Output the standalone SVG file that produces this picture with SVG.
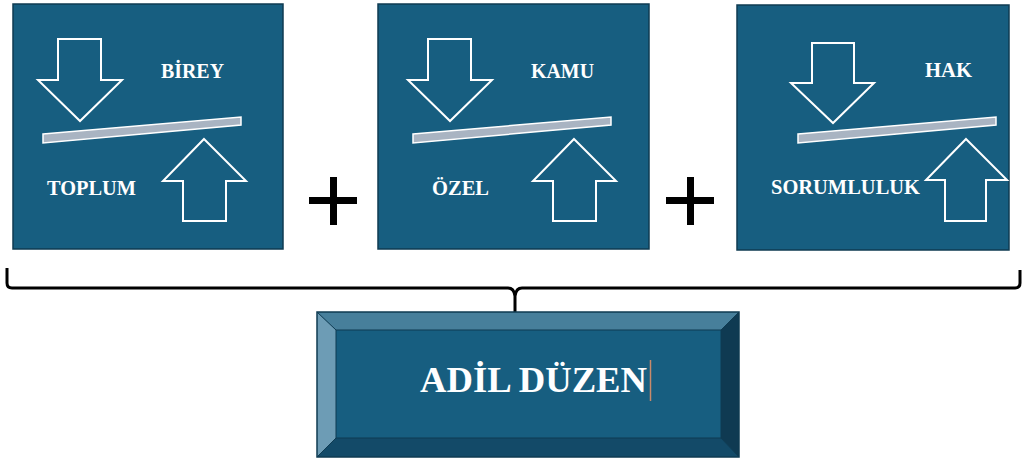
<svg xmlns="http://www.w3.org/2000/svg" width="1022" height="460" viewBox="0 0 1022 460">
<style>
.panel{fill:#175e80;stroke:#0f3b52;stroke-width:1.5}
.arr{fill:none;stroke:#ffffff;stroke-width:2;stroke-linejoin:miter}
.bar{fill:#a9b4c2;stroke:#ffffff;stroke-width:1.5}
.lbl{font-family:"Liberation Serif","Times New Roman",serif;font-weight:bold;font-size:20.5px;fill:#ffffff}
.plus{fill:#000000}
.brace{fill:none;stroke:#000000;stroke-width:3;stroke-linejoin:round}
</style>
<rect width="1022" height="460" fill="#ffffff"/>
<g id="node-birey-toplum">
<rect class="panel" x="13" y="4" width="270" height="245"/>
<polygon class="arr" points="58,39 101,39 101,80 122,80 80,121 38,80 58,80"/>
<polygon class="bar" points="43,134 241,117 241,125 43,143"/>
<polygon class="arr" points="204,139 246,181 226,181 226,221 183,221 183,181 163,181"/>
<text class="lbl" x="161" y="78" textLength="63" lengthAdjust="spacingAndGlyphs">BİREY</text>
<text class="lbl" x="47" y="195" textLength="89" lengthAdjust="spacingAndGlyphs">TOPLUM</text>
</g>
<g id="node-kamu-ozel">
<rect class="panel" x="378" y="4" width="271" height="245"/>
<polygon class="arr" points="428,39 471,39 471,80 492,80 450,121 408,80 428,80"/>
<polygon class="bar" points="413,134 611,117 611,125 413,143"/>
<polygon class="arr" points="574,139 616,181 596,181 596,221 553,221 553,181 533,181"/>
<text class="lbl" x="531" y="78" textLength="63" lengthAdjust="spacingAndGlyphs">KAMU</text>
<text class="lbl" x="432" y="195" textLength="57" lengthAdjust="spacingAndGlyphs">ÖZEL</text>
</g>
<g id="node-hak-sorumluluk">
<rect class="panel" x="737" y="5" width="272" height="245"/>
<polygon class="arr" points="812,43 854,43 854,83 874,83 833,123 791,83 812,83"/>
<polygon class="bar" points="798,134 996,117 996,125 798,143"/>
<polygon class="arr" points="966,139 1007,180 986,180 986,221 945,221 945,180 926,180"/>
<text class="lbl" x="925" y="77" textLength="47" lengthAdjust="spacingAndGlyphs">HAK</text>
<text class="lbl" x="771" y="194" textLength="149" lengthAdjust="spacingAndGlyphs">SORUMLULUK</text>
</g>
<g id="plus-signs">
<rect class="plus" x="330" y="177" width="7" height="48"/>
<rect class="plus" x="309" y="197" width="48" height="7"/>
<rect class="plus" x="687" y="177" width="7" height="48"/>
<rect class="plus" x="666" y="197" width="48" height="7"/>
</g>
<g id="connectors">
<path class="brace" d="M7,268 L7,283 Q7,288 12,288 L508,288 Q514,288 515,296 L515,312 M515,312 L515,296 Q516,288 522,288 L1015,288 Q1020,288 1020,283 L1020,270"/>
</g>
<g id="node-adil-duzen">
<rect x="317" y="312" width="422" height="145" fill="#175e80"/>
<polygon points="317,312 739,312 721,330 336,330" fill="#477f9b"/>
<polygon points="317,312 336,330 336,438 317,457" fill="#6d9cb5"/>
<polygon points="739,312 739,457 721,438 721,330" fill="#0f3a52"/>
<polygon points="317,457 336,438 721,438 739,457" fill="#134a68"/>
<rect x="317" y="312" width="422" height="145" fill="none" stroke="#0f3b52" stroke-width="1.5"/>
<rect x="336" y="330" width="385" height="108" fill="none" stroke="#0f3b52" stroke-width="1"/>
<line x1="317" y1="312" x2="336" y2="330" stroke="#0f3b52" stroke-width="1"/>
<line x1="739" y1="312" x2="721" y2="330" stroke="#0f3b52" stroke-width="1"/>
<line x1="317" y1="457" x2="336" y2="438" stroke="#0f3b52" stroke-width="1"/>
<line x1="739" y1="457" x2="721" y2="438" stroke="#0f3b52" stroke-width="1"/>
<text x="420" y="392" font-family="'Liberation Serif','Times New Roman',serif" font-weight="bold" font-size="36.5" fill="#ffffff" textLength="227" lengthAdjust="spacingAndGlyphs">ADİL DÜZEN</text>
<line x1="650.5" y1="360" x2="650.5" y2="401" stroke="#c98a6a" stroke-width="1.5"/>
</g>
</svg>
